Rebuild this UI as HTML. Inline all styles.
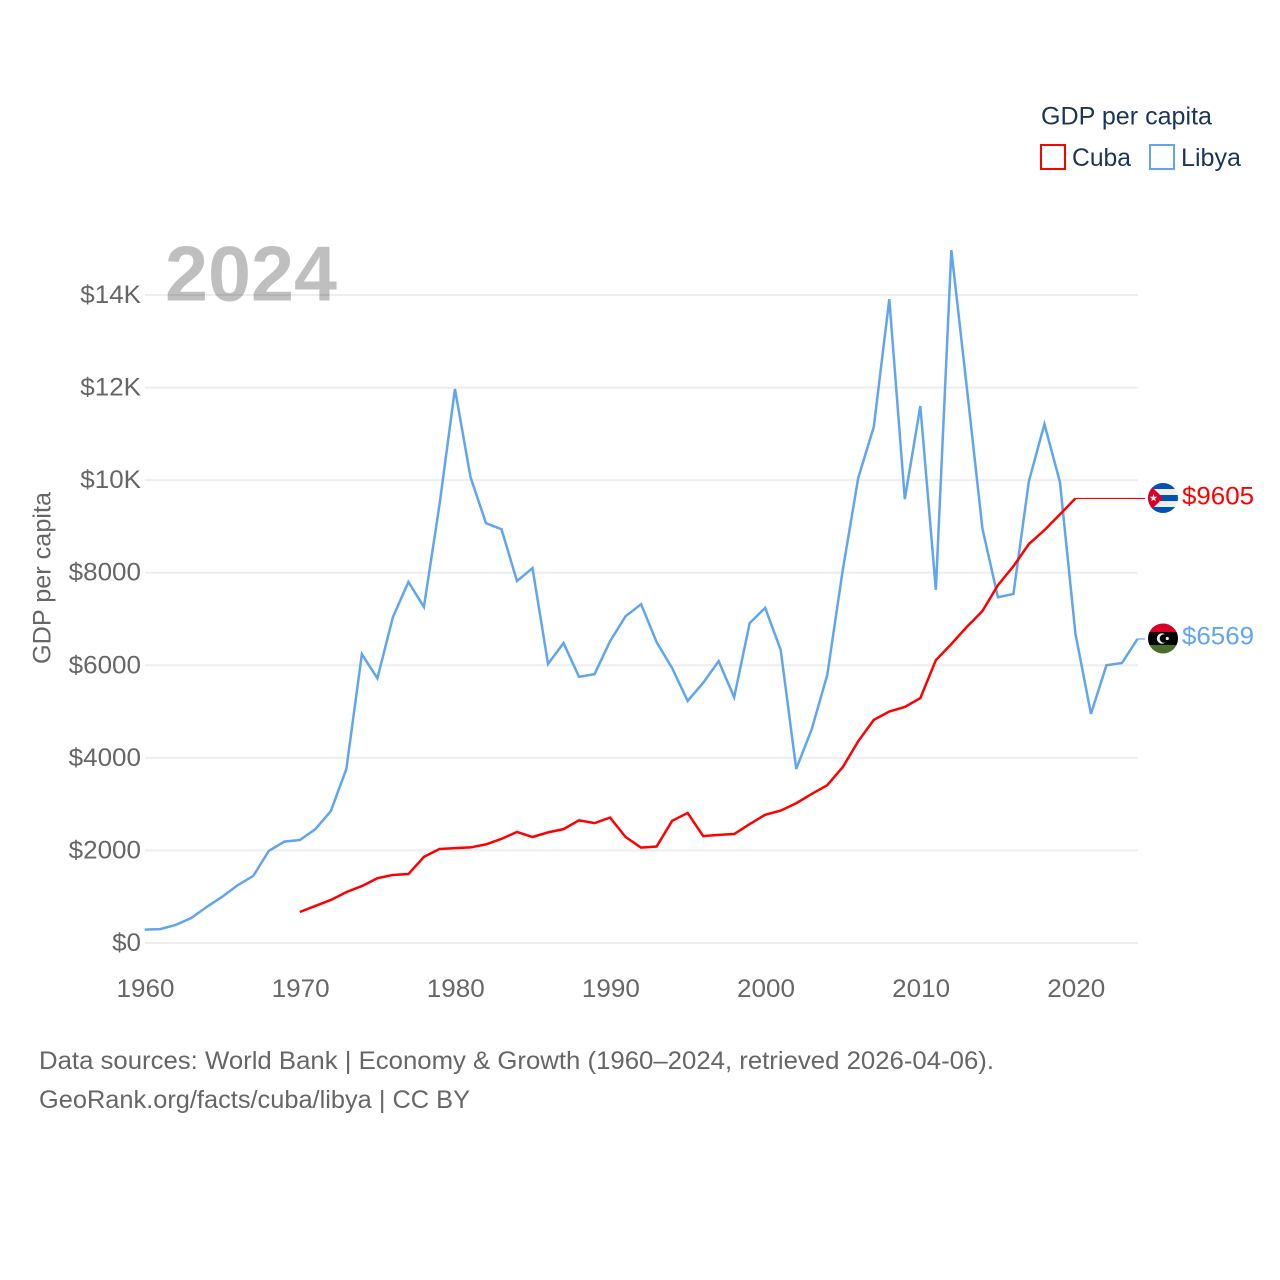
<!DOCTYPE html>
<html lang="en">
<head>
<meta charset="utf-8">
<title>GDP per capita: Cuba and Libya</title>
<style>
  html, body { margin: 0; padding: 0; background: #fff; }
  svg { display: block; }
  text { font-family: "Liberation Sans", sans-serif; }
</style>
</head>
<body>
<svg id="chart" width="1280" height="1280" viewBox="0 0 1280 1280" xmlns="http://www.w3.org/2000/svg">
  <defs>
    <clipPath id="flag-clip-cuba"><circle cx="1163" cy="498" r="15"></circle></clipPath>
    <clipPath id="flag-clip-libya"><circle cx="1163" cy="638.5" r="15"></circle></clipPath>
  </defs>
  <rect width="1280" height="1280" fill="#ffffff"></rect>
  <g id="grid"></g>
  <text x="165" y="300.500" font-size="78" font-weight="700" fill="#000000" fill-opacity="0.25" textLength="172" lengthAdjust="spacingAndGlyphs">2024</text>
  <g id="y-ticks"></g>
  <g id="x-ticks"></g>
  <text transform="translate(50.500,664) rotate(-90)" font-size="25" fill="#666666" textLength="172" lengthAdjust="spacingAndGlyphs">GDP per capita</text>
  <g id="series"></g>

  <g clip-path="url(#flag-clip-cuba)">
    <rect x="1148" y="483" width="30" height="30" fill="#eeeeee"></rect>
    <rect x="1148" y="483" width="30" height="6" fill="#0052b4"></rect>
    <rect x="1148" y="495" width="30" height="6" fill="#0052b4"></rect>
    <rect x="1148" y="507" width="30" height="6" fill="#0052b4"></rect>
    <polygon points="1148,483 1163,498 1148,513" fill="#d80027"></polygon>
    <polygon points="1153.5,494 1154.5,496.8 1157.3,496.8 1155.1,498.6 1155.9,501.3 1153.5,499.7 1151.1,501.3 1151.9,498.6 1149.7,496.8 1152.5,496.8" fill="#eeeeee"></polygon>
  </g>
  <g clip-path="url(#flag-clip-libya)">
    <rect x="1148" y="623.500" width="30" height="9" fill="#d80027"></rect>
    <rect x="1148" y="632" width="30" height="13" fill="#000000"></rect>
    <rect x="1148" y="645" width="30" height="9.500" fill="#496e2d"></rect>
    <circle cx="1162" cy="638.500" r="5.200" fill="#eeeeee"></circle>
    <circle cx="1164" cy="638.500" r="4.300" fill="#000000"></circle>
    <circle cx="1167.300" cy="638.500" r="1.600" fill="#eeeeee"></circle>
  </g>

  <text x="1182" y="504.500" font-size="25" fill="#ff0000" textLength="72" lengthAdjust="spacingAndGlyphs">$9605</text>
  <text x="1182" y="644.500" font-size="25" fill="#60a5ee" textLength="72" lengthAdjust="spacingAndGlyphs">$6569</text>

  <text x="1041" y="124.500" font-size="25" fill="#1b3556" textLength="171" lengthAdjust="spacingAndGlyphs">GDP per capita</text>
  <g>
    <rect x="1041" y="145" width="24" height="24" fill="#ffffff" stroke="#ff0000" stroke-width="2"></rect>
    <text x="1072" y="166" font-size="25" fill="#1b3556" textLength="59" lengthAdjust="spacingAndGlyphs">Cuba</text>
  </g>
  <g>
    <rect x="1150" y="145" width="24" height="24" fill="#ffffff" stroke="#60a5ee" stroke-width="2"></rect>
    <text x="1181" y="166" font-size="25" fill="#1b3556" textLength="60" lengthAdjust="spacingAndGlyphs">Libya</text>
  </g>

  <text x="39" y="1069" font-size="25" fill="#666666" textLength="955" lengthAdjust="spacingAndGlyphs">Data sources: World Bank | Economy &amp; Growth (1960–2024, retrieved 2026-04-06).</text>
  <text x="39" y="1108" font-size="25" fill="#666666" textLength="431" lengthAdjust="spacingAndGlyphs">GeoRank.org/facts/cuba/libya | CC BY</text>
</svg>
<script>
const yTickValues = [0, 2000, 4000, 6000, 8000, 10000, 12000, 14000];
const yTickLabels = ['$0', '$2000', '$4000', '$6000', '$8000', '$10K', '$12K', '$14K'];
const xTickYears = [1960, 1970, 1980, 1990, 2000, 2010, 2020];
const libyaStartYear = 1960;
const libyaValues = [290, 300, 390, 540, 780, 1000, 1250, 1450, 1990, 2190, 2225, 2460, 2850, 3760, 6240, 5720, 7040, 7800, 7260, 9460, 11970, 10070, 9070, 8940, 7820, 8100, 6030, 6480, 5750, 5810, 6520, 7060, 7320, 6500, 5940, 5230, 5620, 6090, 5310, 6910, 7240, 6330, 3760, 4620, 5790, 8060, 10050, 11150, 13910, 9590, 11600, 7630, 14970, 11990, 8960, 7470, 7540, 9980, 11210, 9960, 6680, 4950, 6000, 6050, 6569];
const cubaStartYear = 1970;
const cubaValues = [670, 800, 930, 1100, 1230, 1400, 1470, 1490, 1860, 2030, 2050, 2065, 2130, 2250, 2400, 2290, 2390, 2460, 2650, 2590, 2710, 2290, 2060, 2085, 2640, 2810, 2310, 2335, 2355, 2570, 2770, 2860, 3020, 3220, 3410, 3800, 4360, 4820, 5000, 5100, 5290, 6110, 6460, 6830, 7170, 7730, 8140, 8620, 8920, 9260, 9605];

const NS = 'http://www.w3.org/2000/svg';
const xScale = function (year) { return 144.7 + (year - 1960) * (1137.5 - 144.7) / 64; };
const yScale = function (value) { return 943 - value * (943 - 295) / 14000; };

function linePoints(startYear, values) {
  return values.map(function (v, i) { return xScale(startYear + i).toFixed(2) + ',' + yScale(v).toFixed(2); }).join(' ');
}

function widenLabel(label) {
  label.setAttribute('textLength', (label.getComputedTextLength() * 1.04).toFixed(1));
  label.setAttribute('lengthAdjust', 'spacingAndGlyphs');
}

const gridGroup = document.getElementById('grid');
const yGroup = document.getElementById('y-ticks');
yTickValues.forEach(function (v, i) {
  const line = document.createElementNS(NS, 'line');
  
  
  line.setAttribute('x1', '145');
  line.setAttribute('x2', '1138');
  line.setAttribute('y1', yScale(v));
  line.setAttribute('y2', yScale(v));
  line.setAttribute('stroke', '#eeeeee');
  line.setAttribute('stroke-width', '2');
  gridGroup.appendChild(line);
  const label = document.createElementNS(NS, 'text');
  
  
  label.setAttribute('x', '141');
  label.setAttribute('y', yScale(v) + 8);
  label.setAttribute('text-anchor', 'end');
  label.setAttribute('font-size', '25');
  label.setAttribute('fill', '#666666');
  label.textContent = yTickLabels[i];
  yGroup.appendChild(label);
  widenLabel(label);
});

const xGroup = document.getElementById('x-ticks');
xTickYears.forEach(function (year) {
  const label = document.createElementNS(NS, 'text');
  
  
  label.setAttribute('x', xScale(year) + 0.8);
  label.setAttribute('y', '997');
  label.setAttribute('text-anchor', 'middle');
  label.setAttribute('font-size', '25');
  label.setAttribute('fill', '#666666');
  label.textContent = String(year);
  xGroup.appendChild(label);
  widenLabel(label);
});

const seriesGroup = document.getElementById('series');
function drawSeries(name, color, startYear, values) {
  const lastYear = startYear + values.length - 1;
  const lastY = yScale(values[values.length - 1]);
  const leader = document.createElementNS(NS, 'line');
  
  
  leader.setAttribute('x1', xScale(lastYear));
  leader.setAttribute('x2', '1145');
  leader.setAttribute('y1', lastY);
  leader.setAttribute('y2', lastY);
  leader.setAttribute('stroke', color);
  leader.setAttribute('stroke-width', '1.2');
  seriesGroup.appendChild(leader);
  const line = document.createElementNS(NS, 'polyline');
  
  
  line.setAttribute('points', linePoints(startYear, values));
  line.setAttribute('fill', 'none');
  line.setAttribute('stroke', color);
  line.setAttribute('stroke-width', '2.5');
  line.setAttribute('stroke-linejoin', 'miter');
  seriesGroup.appendChild(line);
}
drawSeries('libya', '#60a5ee', libyaStartYear, libyaValues);
drawSeries('cuba', '#ff0000', cubaStartYear, cubaValues);
</script>
</body>
</html>
